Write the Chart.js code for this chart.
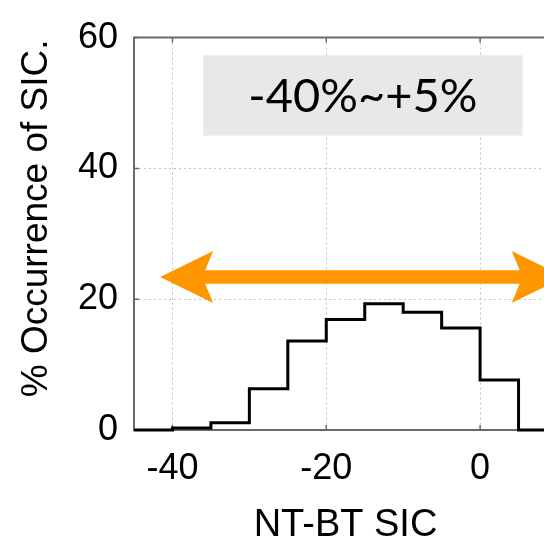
<!DOCTYPE html>
<html>
<head>
<meta charset="utf-8">
<script src="https://cdn.jsdelivr.net/npm/chart.js@4.4.1/dist/chart.umd.min.js"></script>
<style>
html,body{margin:0;padding:0;overflow:hidden;background:#fff;}
#wrap{position:relative;width:560px;height:548px;}
</style>
</head>
<body>
<div id="wrap"><canvas id="c"></canvas></div>
<script>
// ---- data ----
// value of each 5-unit bin, listed at the bin's RIGHT edge (first entry is the start edge)
const binEdges   = [-45, -40, -35, -30, -25, -20, -15, -10, -5, 0, 5, 10];
const occurrence = [0, 0, 0.3, 1.1, 6.3, 13.6, 16.9, 19.3, 18.0, 15.6, 7.65, 0];
const xTicks = [-40, -20, 0];
const yTicks = [0, 20, 40, 60];
const rangeLabel = '-40%~+5%';
const arrowRange = [-41.6, 11.0];   // arrow tips, x units
const arrowLevel = [23.4];          // arrow height, y units
const boxRange   = [-36.0, 5.5];    // label box, x units
const boxLevels  = [45.0, 57.3];    // label box, y units

const points = binEdges.map((e, i) => ({x: e, y: occurrence[i]}));

const FONT = "'Liberation Sans', Arial, Helvetica, sans-serif";
const AXIS_COLOR = '#6a6a6a';
const ORANGE = '#ff9600';

const deco = {
  id: 'deco',
  beforeDatasetsDraw(chart) {
    const {ctx, chartArea: a, scales: {x, y}} = chart;
    ctx.save();
    ctx.strokeStyle = AXIS_COLOR;
    ctx.lineWidth = 2;
    ctx.beginPath();
    ctx.moveTo(a.right + 20, a.top);
    ctx.lineTo(a.left, a.top);
    ctx.lineTo(a.left, a.bottom);
    ctx.lineTo(a.right + 20, a.bottom);
    ctx.stroke();
    ctx.lineWidth = 1.5;
    ctx.beginPath();
    xTicks.forEach(v => {
      const px = x.getPixelForValue(v);
      ctx.moveTo(px, a.top); ctx.lineTo(px, a.top + 5);
      ctx.moveTo(px, a.bottom); ctx.lineTo(px, a.bottom - 5);
    });
    yTicks.forEach(v => {
      const py = y.getPixelForValue(v);
      ctx.moveTo(a.left, py); ctx.lineTo(a.left + 5, py);
    });
    ctx.stroke();
    ctx.restore();
  },
  afterDatasetsDraw(chart) {
    const {ctx, scales: {x, y}} = chart;
    ctx.save();
    const bx0 = x.getPixelForValue(boxRange[0]), bx1 = x.getPixelForValue(boxRange[1]);
    const by0 = y.getPixelForValue(boxLevels[1]), by1 = y.getPixelForValue(boxLevels[0]);
    ctx.fillStyle = '#e8e8e8';
    ctx.fillRect(bx0, by0, bx1 - bx0, by1 - by0);
    ctx.fillStyle = '#000';
    ctx.font = "47px Lato, 'Open Sans', sans-serif";
    ctx.textAlign = 'center';
    ctx.textBaseline = 'alphabetic';
    ctx.fillText(rangeLabel, (bx0 + bx1) / 2, by1 - 24);
    const xl = x.getPixelForValue(arrowRange[0]);
    const xr = x.getPixelForValue(arrowRange[1]);
    const yc = y.getPixelForValue(arrowLevel[0]);
    const hl = 53, hw = 26, nl = 45, sw = 6.7;
    ctx.fillStyle = ORANGE;
    ctx.beginPath();
    ctx.moveTo(xl, yc);
    ctx.lineTo(xl + hl, yc - hw);
    ctx.lineTo(xl + nl, yc - sw);
    ctx.lineTo(xr - nl, yc - sw);
    ctx.lineTo(xr - hl, yc - hw);
    ctx.lineTo(xr, yc);
    ctx.lineTo(xr - hl, yc + hw);
    ctx.lineTo(xr - nl, yc + sw);
    ctx.lineTo(xl + nl, yc + sw);
    ctx.lineTo(xl + hl, yc + hw);
    ctx.closePath();
    ctx.fill();
    ctx.restore();
  }
};

new Chart(document.getElementById('c'), {
  type: 'line',
  data: {
    datasets: [{
      data: points,
      stepped: 'after',
      borderColor: '#000',
      borderWidth: 3,
      pointRadius: 0,
      fill: false,
      clip: false
    }]
  },
  options: {
    responsive: true,
    maintainAspectRatio: false,
    animation: false,
    events: [],
    layout: {padding: {top: 24, right: 3, left: 0, bottom: 0}},
    plugins: {legend: {display: false}, tooltip: {enabled: false}},
    scales: {
      x: {
        type: 'linear', min: -45, max: 10,
        afterBuildTicks(s) { s.ticks = xTicks.map(v => ({value: v})); },
        afterFit(s) { s.height = 118; },
        grid: {color: '#c2c2c2', lineWidth: 1, drawTicks: false},
        border: {display: false, dash: [2, 3]},
        ticks: {font: {family: FONT, size: 36}, color: '#000', padding: 17, maxRotation: 0, autoSkip: false},
        title: {display: true, text: 'NT-BT SIC', font: {family: FONT, size: 38}, color: '#000', padding: {top: 0, bottom: 0}}
      },
      y: {
        min: 0, max: 60,
        afterBuildTicks(s) { s.ticks = yTicks.map(v => ({value: v})); },
        afterFit(s) { s.width = 134; },
        grid: {color: '#c2c2c2', lineWidth: 1, drawTicks: false},
        border: {display: false, dash: [2, 3]},
        ticks: {font: {family: FONT, size: 36}, color: '#000', padding: 16},
        title: {display: true, text: '   % Occurrence of SIC.', font: {family: FONT, size: 37}, color: '#000', padding: {top: 15, bottom: 0}}
      }
    }
  },
  plugins: [deco]
});
</script>
</body>
</html>
